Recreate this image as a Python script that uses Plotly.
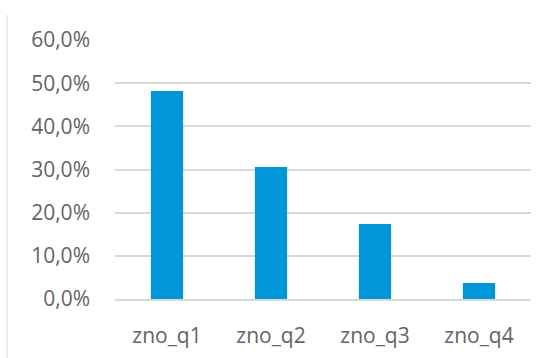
import plotly.graph_objects as go

categories = ["zno_q1", "zno_q2", "zno_q3", "zno_q4"]
shares = [0.482, 0.306, 0.174, 0.037]
tick_values = [0.0, 0.1, 0.2, 0.3, 0.4, 0.5, 0.6]

label_font = dict(family="Open Sans", color="#646464", size=21)

fig = go.Figure(
    go.Bar(
        x=categories,
        y=shares,
        marker=dict(color="#0096D8", line=dict(width=0)),
        width=0.31,
    )
)

fig.update_layout(
    width=552,
    height=358,
    margin=dict(l=115, r=21, t=40, b=59, autoexpand=False),
    paper_bgcolor="white",
    plot_bgcolor="white",
    separators=",.",
    showlegend=False,
    font=label_font,
    shapes=[
        dict(
            type="line", xref="paper", yref="paper",
            x0=-0.2596, x1=-0.2596, y0=1.0965, y1=-0.3,
            line=dict(color="#D9D9D9", width=1),
        )
    ],
)

fig.update_yaxes(
    range=[0, 0.6],
    tickvals=tick_values,
    tickformat=".1%",
    tickfont=label_font,
    showgrid=True,
    gridcolor="#D9D9D9",
    gridwidth=1.5,
    zeroline=False,
    showline=False,
    automargin=False,
    ticklabelstandoff=24,
)

fig.update_xaxes(
    tickfont=label_font,
    showline=True,
    linecolor="#D9D9D9",
    linewidth=1.5,
    showgrid=False,
    automargin=False,
    ticklabelstandoff=17,
)

fig.write_html("out.html")
